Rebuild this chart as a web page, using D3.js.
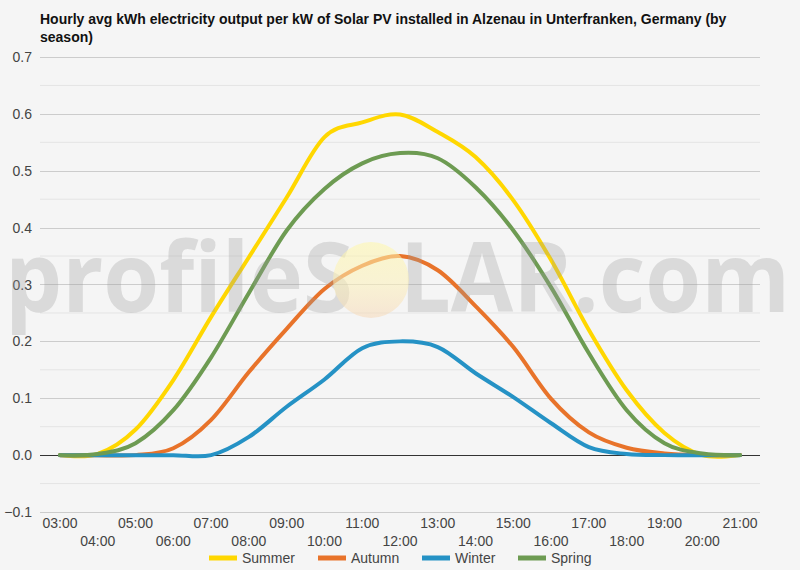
<!DOCTYPE html>
<html lang="en">
<head>
  <meta charset="UTF-8">
  <title>Hourly avg kWh output per kW - Alzenau in Unterfranken</title>
  <style>
    body {
      margin: 0;
      padding: 0;
      background-color: #f5f5f5;
      font-family: Arial, 'Liberation Sans', sans-serif;
    }

    svg {
      display: block;
    }

    .title {
      font-size: 14px;
      font-weight: bold;
      fill: #111;
    }

    .tick-label {
      font-size: 14px;
      fill: #444;
    }

    .legend text {
      font-size: 14px;
      fill: #444;
    }

    .series {
      fill: none;
      stroke-width: 4px;
      stroke-linejoin: round;
      stroke-linecap: round;
    }
  </style>
</head>
<body>
  <svg width="800" height="570"></svg>

  <script src="https://d3js.org/d3.v7.min.js"></script>
  <script>
    // hours of the day, 03:00 .. 21:00
    const hours = [3, 4, 5, 6, 7, 8, 9, 10, 11, 12, 13, 14, 15, 16, 17, 18, 19, 20, 21];
    const hourLabels = hours.map((h) => String(h).padStart(2, "0") + ":00");

    const seasons = ["Summer", "Autumn", "Winter", "Spring"];
    const colors = ["#ffd700", "#e8732a", "#2592c5", "#6d9b52"];

    const summer = [0, 0.002, 0.045, 0.132, 0.243, 0.348, 0.453, 0.559, 0.585, 0.599, 0.568, 0.524, 0.448, 0.343, 0.22, 0.114, 0.039, 0.0, 0];
    const autumn = [0, 0, 0, 0.012, 0.062, 0.146, 0.222, 0.292, 0.333, 0.35, 0.325, 0.262, 0.19, 0.099, 0.04, 0.013, 0.003, 0, 0];
    const winter = [0, 0, 0, 0, 0, 0.032, 0.085, 0.133, 0.188, 0.2, 0.19, 0.144, 0.102, 0.056, 0.014, 0.002, 0, 0, 0];
    const spring = [0, 0.002, 0.021, 0.079, 0.172, 0.285, 0.395, 0.468, 0.513, 0.531, 0.522, 0.471, 0.395, 0.295, 0.179, 0.079, 0.021, 0.003, 0];

    const yTicks = [-0.1, 0, 0.1, 0.2, 0.3, 0.4, 0.5, 0.6, 0.7];
    const yMinor = [-0.05, 0.05, 0.15, 0.25, 0.35, 0.45, 0.55, 0.65];

    const svg = d3.select("svg");

    const x = d3.scaleLinear().domain([3, 21]).range([60, 740]);
    const y = d3.scaleLinear().domain([-0.1, 0.7]).range([512, 57]);

    const gridLeft = 40;
    const gridRight = 760;

    // title (two lines, as wrapped in the original)
    const title = svg.append("text").attr("class", "title").attr("x", 40).attr("y", 24);
    title.append("tspan").attr("x", 40).text("Hourly avg kWh electricity output per kW of Solar PV installed in Alzenau in Unterfranken, Germany (by");
    title.append("tspan").attr("x", 40).attr("dy", 18).text("season)");

    // gridlines
    svg.append("g")
      .selectAll("line")
      .data(yMinor)
      .enter()
      .append("line")
      .attr("x1", gridLeft)
      .attr("x2", gridRight)
      .attr("y1", (d) => y(d))
      .attr("y2", (d) => y(d))
      .attr("stroke", "#e4e4e4")
      .attr("stroke-width", 1);

    svg.append("g")
      .selectAll("line")
      .data(yTicks)
      .enter()
      .append("line")
      .attr("x1", gridLeft)
      .attr("x2", gridRight)
      .attr("y1", (d) => Math.round(y(d)) + 0.5)
      .attr("y2", (d) => Math.round(y(d)) + 0.5)
      .attr("stroke", (d) => (d === 0 ? "#333" : "#cccccc"))
      .attr("stroke-width", 1);

    // y labels
    svg.append("g")
      .selectAll("text")
      .data(yTicks)
      .enter()
      .append("text")
      .attr("class", "tick-label")
      .attr("x", 32)
      .attr("y", (d) => y(d) + 5)
      .attr("text-anchor", "end")
      .text((d) => d3.format(".1f")(d));

    // x labels, alternating in two rows
    svg.append("g")
      .selectAll("text")
      .data(hours)
      .enter()
      .append("text")
      .attr("class", "tick-label")
      .attr("x", (d) => x(d))
      .attr("y", (d, i) => (i % 2 === 0 ? 528 : 546))
      .attr("text-anchor", "middle")
      .text((d, i) => hourLabels[i]);

    // series lines
    const seriesData = [summer, autumn, winter, spring];
    const line = d3
      .line()
      .x((d, i) => x(hours[i]))
      .y((d) => y(d))
      .curve(d3.curveCardinal.tension(0));

    svg.append("g")
      .selectAll("path")
      .data(seriesData)
      .enter()
      .append("path")
      .attr("class", "series")
      .attr("stroke", (d, i) => colors[i])
      .attr("d", line);

    // watermark on top of the lines
    const defs = svg.append("defs");
    const grad = defs.append("linearGradient")
      .attr("id", "sun")
      .attr("x1", 0).attr("y1", 0).attr("x2", 0).attr("y2", 1);
    grad.append("stop").attr("offset", "0%").attr("stop-color", "#fff7a8");
    grad.append("stop").attr("offset", "55%").attr("stop-color", "#fcf0b8");
    grad.append("stop").attr("offset", "100%").attr("stop-color", "#f6d8b8");

    const mark = svg.append("g").attr("pointer-events", "none");
    mark.append("text")
      .attr("x", 5)
      .attr("y", 312)
      .attr("textLength", 785)
      .attr("lengthAdjust", "spacingAndGlyphs")
      .attr("font-family", "'Open Sans', sans-serif")
      .attr("font-weight", "bold")
      .attr("font-size", 96)
      .attr("fill", "#9a9a9a")
      .attr("fill-opacity", 0.3)
      .text("profileS\u00A0\u00A0LAR.com");
    mark.append("ellipse")
      .attr("cx", 371)
      .attr("cy", 280)
      .attr("rx", 38)
      .attr("ry", 38)
      .attr("fill", "url(#sun)")
      .attr("opacity", 0.55);

    // legend
    const legendX = [209, 318, 422, 518];
    const legend = svg.append("g").attr("class", "legend");
    seasons.forEach((s, i) => {
      legend.append("line")
        .attr("x1", legendX[i])
        .attr("x2", legendX[i] + 28)
        .attr("y1", 558)
        .attr("y2", 558)
        .attr("stroke", colors[i])
        .attr("stroke-width", 5);
      legend.append("text")
        .attr("x", legendX[i] + 33)
        .attr("y", 563)
        .text(s);
    });
  </script>
</body>
</html>
